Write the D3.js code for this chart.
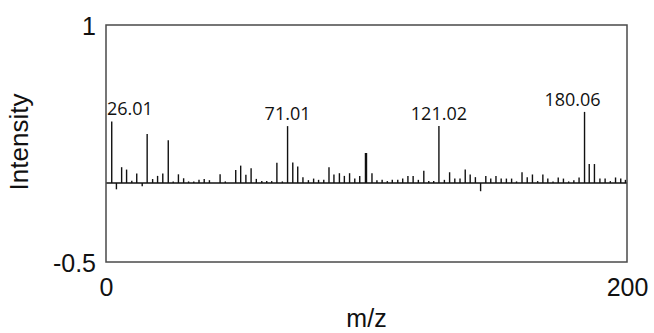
<!DOCTYPE html>
<html>
<head>
<meta charset="utf-8">
<script src="https://cdn.jsdelivr.net/npm/d3@7"></script>
<style>
  body { margin: 0; background: #fff; }
  svg { display: block; }
</style>
</head>
<body>
<svg id="chart" width="654" height="333"></svg>
<script>
// spectrum peaks (m/z, relative intensity)
const peakMz = [
  2.2, 4.0, 6.0, 7.9, 9.9, 11.8, 13.9, 15.8, 17.9, 19.8,
  21.8, 23.9, 25.8, 27.8, 29.8, 31.7, 33.7, 35.7, 37.7, 39.7,
  43.8, 45.8, 49.8, 51.7, 53.7, 55.7, 57.7, 59.8, 61.7, 63.6,
  65.6, 67.7, 69.7, 71.7, 73.6, 75.6, 77.7, 79.7, 81.6, 83.6,
  85.6, 87.5, 89.6, 91.5, 93.5, 95.5, 97.4, 99.6, 100.0, 102.1,
  104.0, 106.0, 108.0, 109.9, 112.0, 113.9, 115.9, 117.9, 119.9, 122.0,
  123.9, 125.8, 127.8, 129.9, 131.9, 133.9, 135.9, 137.9, 139.8, 141.8,
  143.8, 145.8, 147.7, 149.7, 151.7, 153.7, 155.7, 157.6, 159.7, 161.7,
  163.7, 165.7, 167.7, 169.6, 171.6, 173.6, 175.6, 177.6, 179.6, 181.6,
  183.7, 185.5, 187.5, 189.6, 191.6, 193.6, 195.6, 197.6, 199.4
];
const peakIntensity = [
  0.39, -0.04, 0.10, 0.085, 0.015, 0.06, -0.02, 0.31, 0.025, 0.045,
  0.06, 0.27, 0.01, 0.055, 0.03, 0.01, 0.01, 0.02, 0.025, 0.018,
  0.055, 0.01, 0.083, 0.11, 0.052, 0.094, 0.026, 0.012, 0.013, 0.012,
  0.128, 0.01, 0.36, 0.13, 0.104, 0.037, 0.018, 0.028, 0.02, 0.02,
  0.10, 0.054, 0.062, 0.045, 0.062, 0.028, 0.045, 0.19, 0.19, 0.062,
  0.018, 0.02, 0.012, 0.02, 0.02, 0.028, 0.045, 0.045, 0.02, 0.077,
  0.012, 0.012, 0.36, 0.02, 0.068, 0.028, 0.028, 0.085, 0.054, 0.037,
  -0.052, 0.045, 0.028, 0.045, 0.028, 0.028, 0.028, 0.01, 0.068, 0.037,
  0.054, 0.012, 0.054, 0.028, 0.01, 0.035, 0.028, 0.01, 0.018, 0.035,
  0.45, 0.12, 0.12, 0.028, 0.028, 0.012, 0.035, 0.028, 0.02
];

// annotated peaks: index into the arrays above, and the printed label
const labelPeak = [0, 32, 62, 90];
const labelText = ["26.01", "71.01", "121.02", "180.06"];

const xDomain = [0, 200];
const yDomain = [-0.5, 1];
const xTicks = [0, 200];
const yTicks = [-0.5, 1];

const svg = d3.select("#chart");
const margin = {top: 25, right: 27, bottom: 71, left: 106};
const width = 654 - margin.left - margin.right,
      height = 333 - margin.top - margin.bottom;

const x = d3.scaleLinear().domain(xDomain).range([margin.left, margin.left + width]);
const y = d3.scaleLinear().domain(yDomain).range([margin.top + height, margin.top]);

const peaks = peakMz.map((m, i) => ({mz: m, v: peakIntensity[i]}));

// zero line
svg.append("line")
    .attr("x1", x(xDomain[0])).attr("x2", x(xDomain[1]))
    .attr("y1", y(0)).attr("y2", y(0))
    .attr("stroke", "#111").attr("stroke-width", 1.5);

// sticks
svg.selectAll(".peak")
    .data(peaks)
    .enter().append("line")
    .attr("class", "peak")
    .attr("x1", d => x(d.mz)).attr("x2", d => x(d.mz))
    .attr("y1", y(0)).attr("y2", d => y(d.v))
    .attr("stroke", "#111")
    .attr("stroke-width", 1.4);

// frame
svg.append("rect")
    .attr("x", margin.left).attr("y", margin.top)
    .attr("width", width).attr("height", height)
    .attr("fill", "none")
    .attr("stroke", "#4a4a4a")
    .attr("stroke-width", 1.5);

// axes (just the end labels)
const fmt = d => String(d);
const yAxis = svg.append("g")
    .attr("transform", `translate(${margin.left},0)`)
    .call(d3.axisLeft(y).tickValues(yTicks).tickSize(0).tickPadding(10).tickFormat(fmt));
const xAxis = svg.append("g")
    .attr("transform", `translate(0,${margin.top + height})`)
    .call(d3.axisBottom(x).tickValues(xTicks).tickSize(0).tickPadding(16).tickFormat(fmt));
[yAxis, xAxis].forEach(a => {
    a.select(".domain").remove();
    a.selectAll("text")
        .attr("fill", "#111")
        .style("font-family", "'Liberation Sans', Arial, sans-serif")
        .style("font-size", "25px");
});
yAxis.selectAll("text").attr("dy", "0.38em");

// axis titles
svg.append("text")
    .attr("x", x(100)).attr("y", 327)
    .attr("text-anchor", "middle")
    .attr("fill", "#111")
    .style("font-family", "'Liberation Sans', Arial, sans-serif")
    .style("font-size", "25px")
    .text("m/z");

svg.append("text")
    .attr("transform", `translate(28,${(margin.top + y(0)) / 2 + 38}) rotate(-90)`)
    .attr("text-anchor", "middle")
    .attr("fill", "#111")
    .style("font-family", "'Liberation Sans', Arial, sans-serif")
    .style("font-size", "26px")
    .text("Intensity");

// peak annotations
const labels = svg.selectAll(".plabel")
    .data(labelPeak)
    .enter().append("text")
    .attr("class", "plabel")
    .attr("y", i => y(peaks[i].v) - 6)
    .attr("text-anchor", "middle")
    .attr("fill", "#111")
    .style("font-family", "'Open Sans', sans-serif")
    .style("font-size", "18px")
    .text((i, k) => labelText[k]);

labels.attr("x", function (i) {
    const w = this.getComputedTextLength();
    let cx = x(peaks[i].mz);
    if (cx - w / 2 < margin.left + 1) cx = margin.left + 1 + w / 2;
    if (i === labelPeak[3]) cx -= 12;
    return cx;
});
</script>
</body>
</html>
